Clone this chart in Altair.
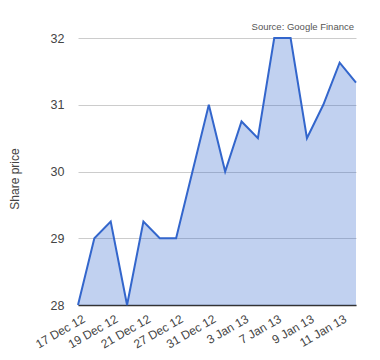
import altair as alt
import pandas as pd

dates = ["17 Dec 12", "18 Dec 12", "19 Dec 12", "20 Dec 12", "21 Dec 12", "24 Dec 12",
         "27 Dec 12", "28 Dec 12", "31 Dec 12", "2 Jan 13", "3 Jan 13", "4 Jan 13",
         "7 Jan 13", "8 Jan 13", "9 Jan 13", "10 Jan 13", "11 Jan 13", "14 Jan 13"]
prices = [28.0, 29.0, 29.25, 28.0, 29.25, 29.0, 29.0, 30.0, 31.0, 30.0, 30.75, 30.5,
          32.0, 32.0, 30.5, 31.0, 31.63, 31.33]
tick_labels = ["17 Dec 12", "19 Dec 12", "21 Dec 12", "27 Dec 12", "31 Dec 12",
               "3 Jan 13", "7 Jan 13", "9 Jan 13", "11 Jan 13"]
y_ticks = [28, 29, 30, 31, 32]
y_min, y_max = 28, 32

df = pd.DataFrame({"date": dates, "price": prices})

W, H = 278, 267
FONT = "Liberation Sans"

x_enc = alt.X("date:O", sort=dates, title=None,
              scale=alt.Scale(type="point", padding=0),
              axis=alt.Axis(values=tick_labels, labelAngle=-30, labelFontSize=12,
                            labelColor="#444444", labelFont=FONT, ticks=False,
                            domain=True, domainColor="#333333", domainWidth=1.5,
                            labelPadding=8, labelOffset=3, grid=False))
y_enc = alt.Y("price:Q", title=None,
              scale=alt.Scale(domain=[y_min, y_max], zero=False, nice=False),
              axis=alt.Axis(values=y_ticks, format="d", labelFontSize=12.5,
                            labelColor="#444444", labelFont=FONT, ticks=False,
                            domain=False, grid=True, gridColor="#cccccc",
                            labelPadding=14))

base = alt.Chart(df)
area = base.mark_area(color="#3366cc", opacity=0.3).encode(
    x=x_enc, y=y_enc, y2=alt.datum(y_min))
line = base.mark_line(color="#3366cc", strokeWidth=2).encode(
    x=alt.X("date:O", sort=dates), y="price:Q")

source = alt.Chart(pd.DataFrame({"t": ["Source: Google Finance"]})).mark_text(
    align="right", baseline="middle", fontSize=9.5, color="#555555", font=FONT
).encode(text="t:N", x=alt.value(W - 2), y=alt.value(-11))

ytitle = alt.Chart(pd.DataFrame({"t": ["Share price"]})).mark_text(
    align="center", baseline="middle", fontSize=12, color="#444444", font=FONT, angle=270
).encode(text="t:N", x=alt.value(-63), y=alt.value(141))

chart = alt.layer(area, line, source, ytitle).properties(
    width=W, height=H,
    autosize=alt.AutoSizeParams(type="none"),
    padding={"left": 70, "top": 30, "right": 14, "bottom": 45},
).configure_view(stroke=None)

chart.save("out.html", embed_options={"renderer": "svg", "actions": False})
